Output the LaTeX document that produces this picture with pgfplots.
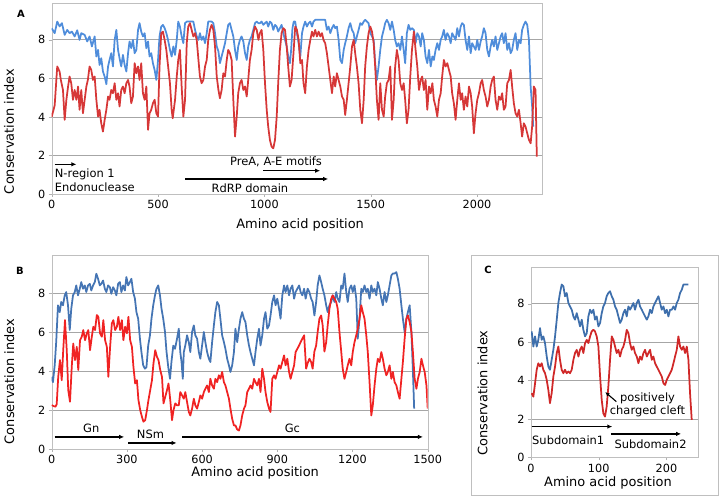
\documentclass[border=0pt]{standalone}
\usepackage{fontspec}
\setmainfont{DejaVu Sans}
\usepackage{pgfplots}
\pgfplotsset{compat=1.18}
\usetikzlibrary{arrows.meta}
\definecolor{ablue}{RGB}{79,141,219}
\definecolor{ared}{RGB}{214,55,55}
\definecolor{bblue}{RGB}{69,117,180}
\definecolor{bred}{RGB}{240,35,35}
\definecolor{cblue}{RGB}{62,111,172}
\definecolor{cred}{RGB}{208,40,40}
\pgfplotsset{panel/.style={scale only axis, axis line style={draw=black!25},
  tick style={draw=black!30}, tick align=outside, major tick length=3bp,
  xtick pos=left, ytick pos=left, ymin=0, ytick={0,2,4,6,8}, ymajorgrids,
  grid style={draw=black!35, line width=0.8bp},
  tick label style={font=\fontsize{11.3}{13}\selectfont},
  label style={font=\fontsize{13}{15}\selectfont},
  /pgf/number format/assume math mode=true, /pgf/number format/1000 sep={},
  every axis plot/.append style={line width=1.75bp, line join=round}}}
\tikzset{annot/.style={font=\fontsize{11.5}{13}\selectfont, inner sep=0pt},
  arr/.style={-{Latex[length=5bp,width=4.5bp]}, line width=1.4bp}}
\begin{document}
\begin{tikzpicture}
\path[use as bounding box] (0bp,0bp) rectangle (720bp,499bp);
% Panel A
\begin{axis}[panel, at={(51.7bp,305bp)}, anchor=south west, width=490bp, height=190.7bp,
  xmin=0, xmax=2304, ymax=9.9, xtick={0,500,1000,1500,2000},
  xlabel={Amino acid position}, ylabel={Conservation index},
  xlabel style={at={(axis description cs:0.507,-0.163)}, anchor=center},
  ylabel style={at={(axis description cs:-0.087,0.328)}, anchor=center}]
\addplot[ablue] coordinates {(0,8.6)(14,8.35)(26,8.95)(37,8.7)(48,8.87)(61,8.26)(73,8.52)(84,8.35)(95,8.43)(108,8.18)(120,8.5)(131,8.0)(139,8.35)(155,8.26)(167,7.92)(178,8.18)(189,7.66)(202,8.18)(210,7.14)(218,7.48)(225,6.7)(233,7.05)(241,6.36)(249,6.1)(257,5.7)(265,6.62)(272,6.96)(280,7.31)(288,6.62)(296,8.0)(304,8.52)(312,7.48)(319,7.05)(327,6.62)(335,7.22)(343,6.7)(351,6.36)(359,7.31)(366,7.92)(374,7.57)(382,8.0)(390,7.31)(398,7.48)(406,8.52)(413,8.87)(421,8.43)(429,8.18)(437,8.35)(445,7.57)(453,7.92)(460,7.14)(468,7.31)(476,6.79)(484,6.44)(492,5.92)(500,6.96)(507,8.18)(515,8.69)(523,8.78)(531,8.61)(539,8.35)(547,8.0)
(556,7.48)(564,7.14)(572,7.66)(580,7.22)(588,8.0)(595,8.95)(603,8.69)(611,8.18)(619,7.83)(627,8.87)(635,8.95)(650,8.95)(666,8.95)(674,8.52)(682,8.18)(690,8.0)(697,8.35)(705,8.0)(713,8.18)(721,7.83)(729,8.35)(736,8.95)(752,8.95)(760,8.87)(768,8.35)(776,7.66)(784,7.4)(791,6.79)(799,7.14)(807,7.48)(815,7.83)(823,8.35)(830,8.78)(838,8.87)(846,8.52)(854,8.18)(862,7.48)(870,6.96)(877,7.66)(885,8.0)(893,8.18)(901,7.92)(909,7.31)(917,6.96)(924,7.66)(932,8.0)(940,8.18)(948,8.52)(956,8.87)(964,8.95)(972,8.87)(979,8.87)(987,8.95)(995,8.78)(1003,8.87)(1011,8.95)(1018,8.69)(1026,8.95)(1034,8.87)(1042,8.52)(1050,8.78)(1058,8.69)(1065,8.43)(1073,8.61)(1081,8.78)(1089,8.35)(1097,8.0)(1105,7.66)(1112,7.14)(1120,6.79)(1126,7.5)(1132,8.6)
(1138,8.95)(1145,8.95)(1153,8.35)(1161,7.83)(1169,7.14)(1177,8.35)(1184,8.69)(1192,8.95)(1200,8.69)(1208,8.87)(1216,8.95)(1224,8.69)(1231,8.95)(1239,9.04)(1286,9.04)(1294,8.52)(1302,8.69)(1310,8.35)(1318,8.61)(1326,8.78)(1333,8.61)(1341,8.69)(1349,8.0)(1357,6.96)(1365,6.79)(1373,7.48)(1380,7.83)(1388,8.18)(1396,8.61)(1404,8.87)(1412,8.52)(1420,8.35)(1427,7.83)(1435,8.18)(1443,8.52)(1451,8.87)(1459,8.78)(1467,8.95)(1474,9.04)(1482,8.95)(1490,8.87)(1498,8.35)(1506,8.18)(1514,8.0)(1521,6.79)(1529,5.92)(1537,6.62)(1545,7.48)(1553,8.18)(1561,8.52)(1568,8.87)(1576,9.04)(1584,8.87)(1592,8.52)(1600,8.95)(1608,8.52)(1615,8.0)(1623,7.66)(1631,7.83)(1639,7.48)(1647,8.18)(1655,7.48)(1662,6.79)(1670,8.35)(1678,8.78)(1686,8.52)(1694,8.61)
(1703,8.52)(1711,7.83)(1719,8.35)(1727,8.18)(1735,7.66)(1742,8.35)(1750,8.0)(1758,7.14)(1766,6.79)(1774,7.48)(1782,6.62)(1790,7.14)(1797,6.96)(1805,7.48)(1813,7.83)(1821,7.48)(1829,8.0)(1836,8.18)(1844,8.52)(1852,8.0)(1860,8.35)(1868,8.18)(1876,7.83)(1883,8.35)(1891,8.18)(1899,8.0)(1907,8.61)(1915,8.18)(1923,8.69)(1930,8.87)(1938,8.78)(1946,8.0)(1954,7.48)(1962,8.18)(1970,7.31)(1977,7.83)(1985,7.66)(1993,7.48)(2001,8.0)(2009,7.48)(2017,7.92)(2024,8.18)(2032,8.61)(2040,8.35)(2048,7.48)(2056,7.14)(2064,7.66)(2071,8.0)(2079,7.66)(2087,8.18)(2095,7.48)(2103,7.83)(2111,8.18)(2118,8.35)(2126,7.83)(2134,8.35)(2142,7.48)(2150,7.83)(2158,7.31)(2165,7.48)(2173,8.0)(2181,8.35)(2189,7.48)(2197,8.0)(2205,7.83)(2212,8.52)(2220,8.78)(2228,8.95)(2236,8.78)(2244,8.0)(2252,5.58)(2259,4.54)(2264,3.5)};
\addplot[ared] coordinates {(0,4.0)(14,4.6)(26,6.62)(37,6.36)(43,5.92)(53,5.4)(61,3.85)(69,4.89)(77,5.58)(84,6.1)(92,5.75)(100,4.89)(108,5.4)(116,4.89)(124,5.58)(131,4.37)(139,5.4)(147,4.19)(155,4.89)(163,5.58)(170,5.92)(178,6.62)(186,6.44)(194,5.92)(202,6.1)(210,4.89)(218,4.02)(225,4.37)(233,3.67)(241,3.24)(249,3.85)(257,4.37)(265,5.06)(272,4.89)(280,5.4)(288,5.23)(296,5.75)(304,4.89)(312,5.23)(319,4.54)(327,5.4)(335,5.58)(343,5.23)(351,5.75)(359,5.92)(366,5.58)(374,4.71)(382,5.06)(390,6.79)(398,6.27)(406,6.62)(413,5.92)(421,6.79)(429,5.23)(437,4.89)(445,5.58)(453,3.33)(460,4.19)(468,4.37)(476,4.71)(484,4.89)(492,4.19)(500,4.02)(507,6.62)(515,8.35)(523,8.43)(531,8.0)(539,7.48)
(556,5.75)(561,4.89)(564,4.37)(569,3.93)(580,4.89)(588,6.1)(595,6.96)(603,7.48)(611,5.58)(619,4.02)(627,4.89)(635,7.83)(642,8.69)(650,8.87)(658,8.52)(666,8.18)(674,8.35)(682,8.0)(690,6.96)(697,6.1)(705,5.75)(713,5.92)(721,6.62)(729,6.96)(736,8.0)(744,8.52)(752,8.78)(760,8.52)(768,7.66)(776,6.1)(784,5.4)(791,4.97)(799,5.4)(807,6.27)(815,6.1)(823,6.96)(830,7.48)(838,7.31)(846,6.96)(854,4.89)(862,2.98)(870,4.02)(877,5.23)(885,5.75)(893,5.92)(901,5.4)(909,5.58)(917,5.06)(924,5.92)(932,6.96)(940,7.48)(948,8.35)(956,8.69)(964,8.52)(972,8.0)(979,8.35)(987,8.52)(995,7.48)(1003,5.75)(1011,4.37)(1018,3.5)(1026,2.81)(1034,2.46)(1042,2.37)(1050,2.81)(1058,4.02)(1065,5.75)(1073,7.48)(1081,8.35)(1089,8.61)(1097,8.52)(1105,7.66)(1112,6.62)(1120,5.58)(1128,5.92)(1138,7.5)
(1145,8.69)(1153,8.52)(1161,8.0)(1169,6.79)(1177,6.96)(1184,5.75)(1192,5.23)(1200,6.62)(1208,7.48)(1216,8.0)(1224,8.43)(1231,8.18)(1239,8.52)(1247,8.18)(1255,8.43)(1263,8.18)(1271,8.35)(1278,8.0)(1286,7.83)(1294,7.31)(1302,6.62)(1310,5.92)(1318,5.23)(1326,6.1)(1333,5.58)(1341,6.27)(1349,5.92)(1357,5.58)(1365,5.06)(1373,4.89)(1380,4.1)(1388,4.89)(1396,5.75)(1404,6.62)(1412,7.66)(1420,8.0)(1427,7.31)(1435,6.62)(1443,5.75)(1451,4.37)(1459,3.67)(1467,4.89)(1474,6.62)(1482,7.66)(1490,8.35)(1498,8.69)(1506,8.43)(1514,7.83)(1521,6.62)(1529,4.89)(1537,3.85)(1545,5.75)(1553,4.37)(1561,4.02)(1568,5.06)(1576,5.75)(1584,5.92)(1592,6.62)(1600,3.85)(1608,4.89)(1615,6.62)(1623,7.48)(1631,6.96)(1639,5.75)(1647,5.4)(1655,5.75)(1662,4.89)(1670,3.67)(1678,4.37)(1686,6.1)(1694,7.48)
(1703,8.43)(1711,7.48)(1719,6.62)(1727,5.4)(1735,5.92)(1742,6.1)(1750,5.4)(1758,5.92)(1766,4.37)(1774,5.58)(1782,5.23)(1790,5.75)(1797,4.89)(1805,4.54)(1813,4.02)(1821,4.89)(1829,5.23)(1836,6.1)(1844,6.96)(1852,6.62)(1860,6.79)(1868,6.44)(1876,6.1)(1883,5.23)(1891,4.71)(1899,3.85)(1907,4.89)(1915,5.75)(1923,4.89)(1930,5.23)(1938,4.37)(1946,5.06)(1954,4.54)(1962,5.58)(1970,5.23)(1977,4.54)(1985,3.15)(1993,4.19)(2001,4.89)(2009,5.23)(2017,5.75)(2024,5.92)(2032,5.4)(2040,5.06)(2048,4.54)(2056,4.89)(2064,5.58)(2071,5.92)(2079,6.1)(2087,4.89)(2095,4.37)(2103,5.06)(2111,4.89)(2118,5.23)(2126,4.37)(2134,4.54)(2142,5.75)(2150,5.92)(2158,6.44)(2165,5.58)(2173,4.71)(2181,4.19)(2189,4.02)(2197,4.37)(2205,3.67)(2212,2.98)(2220,3.67)(2228,3.5)(2236,3.15)(2244,2.81)(2252,2.63)(2259,3.5)(2267,5.58)(2275,5.4)(2281,1.94)};
\draw[arr] (axis cs:14,1.54) -- (axis cs:116,1.54);
\node[annot, anchor=west] at (axis cs:14,1.04) {N-region 1};
\node[annot, anchor=west] at (axis cs:14,0.33) {Endonuclease};
\node[annot] at (axis cs:1055,1.65) {PreA, A-E motifs};
\draw[arr] (axis cs:995,1.21) -- (axis cs:1262,1.21);
\draw[arr] (axis cs:627,0.78) -- (axis cs:1300,0.78);
\node[annot] at (axis cs:932,0.28) {RdRP domain};
\end{axis}
% Panel B
\begin{axis}[panel, at={(51.7bp,50bp)}, anchor=south west, width=376bp, height=194bp,
  xmin=0, xmax=1500, ymax=9.95, xtick={0,300,600,900,1200,1500},
  xlabel={Amino acid position}, ylabel={Conservation index},
  xlabel style={at={(axis description cs:0.541,-0.122)}, anchor=center},
  ylabel style={at={(axis description cs:-0.113,0.348)}, anchor=center}]
\addplot[bblue] coordinates {(0,3.7)(5,3.43)(12,4.3)(18,5.5)(25,7.37)(32,7.02)(38,7.54)(45,7.37)(52,7.88)(58,8.05)(65,7.37)(72,6.1)(78,7.19)(85,7.88)(92,8.05)(98,8.39)(105,7.88)(112,8.22)(118,8.56)(125,8.22)(132,8.39)(138,8.05)(145,8.39)(152,8.47)(158,8.13)(165,8.39)(172,8.56)(178,8.99)(185,8.73)(192,8.39)(198,8.47)(205,8.64)(212,8.22)(218,8.05)(225,8.39)(232,8.3)(238,7.96)(245,8.3)(252,8.13)(258,7.88)(265,8.47)(272,8.56)(278,8.05)(285,8.39)(292,8.13)(298,8.82)(305,8.39)(312,8.56)(318,8.73)(325,8.05)(332,7.71)(338,7.02)(345,6.68)(352,5.66)(358,4.97)(365,4.29)(372,4.12)(378,4.2)(385,5.31)(392,5.83)(398,6.68)(405,7.37)(412,7.88)(418,8.22)(425,8.39)(432,7.88)(438,7.2)(445,6.68)(452,6.0)(458,5.0)(465,4.2)(472,3.6)(478,4.5)(485,5.3)(492,5.14)(500,5.66)(507,6.17)(513,4.97)(518,4.46)(523,3.6)
(527,4.97)(533,5.31)(540,5.83)(547,5.48)(553,4.97)(560,6.0)(567,6.34)(573,5.83)(580,5.66)(587,4.97)(593,4.63)(600,5.31)(607,6.0)(613,5.48)(620,4.97)(627,4.63)(633,4.46)(640,5.48)(647,6.34)(653,7.02)(660,7.54)(667,7.37)(673,6.68)(680,5.83)(687,5.48)(693,5.14)(700,4.63)(707,4.29)(713,3.95)(720,4.29)(727,4.97)(733,6.17)(740,5.48)(747,6.17)(753,6.68)(760,7.02)(767,6.68)(773,6.51)(780,5.83)(787,5.31)(793,4.97)(800,4.63)(807,4.29)(813,4.97)(820,5.66)(827,6.17)(833,5.31)(840,5.83)(847,6.68)(853,7.02)(860,6.17)(867,6.34)(873,6.85)(880,7.54)(887,7.88)(893,7.37)(900,7.71)(907,7.19)(913,6.68)(920,7.88)(927,8.39)(933,8.05)(940,8.39)(947,7.88)(953,8.22)(960,8.39)(967,7.71)(973,8.05)(980,8.22)(987,8.39)(993,8.05)(1000,7.88)(1007,8.22)(1013,7.71)
(1021,8.22)(1028,8.05)(1035,7.71)(1041,7.54)(1048,6.85)(1055,7.54)(1061,8.39)(1068,8.9)(1075,8.56)(1081,8.22)(1088,7.88)(1095,7.37)(1101,7.02)(1108,7.37)(1115,7.54)(1121,7.88)(1128,7.54)(1135,8.05)(1141,7.71)(1148,7.54)(1155,8.39)(1161,8.22)(1168,9.0)(1175,8.05)(1181,7.54)(1188,8.22)(1195,8.39)(1201,8.05)(1208,8.39)(1215,7.71)(1221,5.66)(1228,6.68)(1235,8.22)(1241,8.05)(1248,8.39)(1255,8.05)(1261,8.22)(1268,7.71)(1275,8.39)(1281,8.05)(1288,8.22)(1295,7.88)(1301,8.56)(1308,8.22)(1315,7.71)(1321,7.37)(1328,8.05)(1335,7.54)(1341,7.88)(1348,8.39)(1355,8.9)(1361,9.0)(1368,9.0)(1375,9.07)(1381,8.73)(1388,8.22)(1395,7.37)(1401,6.68)(1408,6.0)(1415,6.68)(1421,7.02)(1428,7.37)(1435,6.0)(1441,4.0)(1446,2.07)};
\addplot[bred] coordinates {(0,2.25)(8,2.2)(15,2.17)(20,2.3)(26,3.7)(33,4.56)(40,3.53)(46,5.07)(53,6.61)(60,5.07)(66,3.02)(73,2.42)(80,4.22)(86,5.41)(93,4.56)(100,5.24)(106,4.05)(113,5.58)(120,5.76)(126,6.1)(133,5.58)(140,5.93)(146,6.1)(153,5.07)(160,5.76)(166,6.27)(173,6.1)(180,6.87)(186,6.78)(193,5.93)(200,5.76)(206,6.61)(213,5.58)(220,5.24)(226,3.7)(233,5.24)(240,6.44)(246,6.61)(253,6.1)(260,6.27)(266,6.78)(273,6.1)(280,6.61)(286,5.58)(293,6.27)(300,5.93)(306,6.78)(313,5.58)(320,5.24)(326,4.22)(333,3.36)(340,3.53)(346,2.51)(353,2.0)(360,1.65)(366,1.4)(373,1.48)(380,2.0)(386,2.51)(393,3.02)(400,3.53)(406,4.39)(413,5.07)(420,4.73)(426,4.56)(433,4.05)(440,3.7)(446,2.34)(453,2.68)(460,3.02)(466,3.36)(473,2.51)(480,1.48)(486,2.0)(493,2.34)
(500,2.24)(507,2.24)(513,2.92)(520,2.75)(527,2.58)(533,2.92)(540,2.41)(547,1.9)(553,1.72)(560,2.07)(567,2.58)(573,2.24)(580,2.07)(587,2.41)(593,2.75)(600,2.58)(607,2.92)(613,3.09)(620,3.26)(627,2.92)(633,3.6)(640,3.26)(647,3.09)(653,3.6)(660,3.43)(667,3.78)(673,3.6)(680,3.95)(687,3.43)(693,3.26)(700,2.92)(707,2.58)(713,2.07)(720,1.55)(727,1.21)(733,1.21)(740,1.0)(747,0.95)(753,1.21)(760,1.72)(767,2.07)(773,2.24)(780,2.92)(787,3.09)(793,3.26)(800,3.09)(807,3.6)(813,3.43)(820,3.26)(827,3.6)(833,2.92)(840,4.12)(847,3.6)(853,2.92)(860,2.41)(867,2.07)(873,1.9)(880,3.6)(887,3.78)(893,3.6)(900,3.95)(907,4.29)(913,4.12)(920,4.46)(927,4.8)(933,4.29)(940,4.63)(947,3.95)(953,3.6)(960,3.95)(967,4.29)(973,4.97)(980,5.14)(987,5.31)(993,5.48)(1000,5.66)(1007,5.83)
(1015,4.12)(1021,4.4)(1028,4.63)(1035,4.46)(1041,4.12)(1048,5.0)(1055,5.31)(1061,6.0)(1068,6.68)(1075,6.85)(1081,6.34)(1088,5.0)(1095,5.48)(1101,6.34)(1108,7.19)(1115,7.71)(1121,7.88)(1128,7.71)(1135,7.54)(1141,7.19)(1148,6.0)(1155,5.0)(1161,4.12)(1168,3.6)(1175,3.95)(1181,4.29)(1188,4.63)(1195,4.29)(1201,4.97)(1208,5.48)(1215,5.83)(1221,6.17)(1228,6.68)(1235,7.37)(1241,7.02)(1248,6.68)(1255,5.83)(1261,4.97)(1268,3.43)(1275,1.72)(1281,2.24)(1288,3.26)(1295,4.12)(1301,4.63)(1308,4.46)(1315,4.97)(1321,4.63)(1328,4.12)(1335,3.78)(1341,3.95)(1348,4.29)(1355,3.6)(1361,3.95)(1368,3.43)(1375,3.26)(1381,2.92)(1388,2.58)(1395,3.6)(1401,4.46)(1408,5.66)(1415,6.68)(1421,6.85)(1428,6.51)(1435,6.0)(1441,4.97)(1448,3.6)(1455,3.09)(1461,3.6)(1468,3.95)(1475,4.63)(1481,4.29)(1488,3.95)(1495,3.26)(1500,2.07)};
\draw[arr] (axis cs:12,0.62) -- (axis cs:289,0.62);
\node[annot] at (axis cs:158,1.08) {Gn};
\draw[arr] (axis cs:305,0.31) -- (axis cs:498,0.31);
\node[annot] at (axis cs:394,0.77) {NSm};
\draw[arr] (axis cs:520,0.62) -- (axis cs:1481,0.62);
\node[annot] at (axis cs:960,1.06) {Gc};
\end{axis}
% Panel C
\draw[black!25, line width=0.8bp] (471bp,4bp) rectangle (718bp,244bp);
\begin{axis}[panel, at={(531bp,41.7bp)}, anchor=south west, width=167.3bp, height=190.6bp,
  xmin=0, xmax=247, ymax=9.93, xtick={0,100,200},
  xlabel={Amino acid position}, ylabel={Conservation index},
  xlabel style={at={(axis description cs:0.46,-0.133)}, anchor=center},
  ylabel style={at={(axis description cs:-0.29,0.337)}, anchor=center}]
\addplot[cblue] coordinates {(1,6.56)(3.5,5.77)(6,6.3)(8.4,5.77)(10.8,6.12)(13.3,6.73)(15.8,6.12)(18.2,6.3)(20.7,5.95)(23.2,5.25)(25.6,4.73)(28,4.56)(30.5,5.08)(33,5.6)(35.5,6.3)(38,7.17)(40.4,8.04)(42.8,8.56)(45.3,9.0)(47.8,8.91)(50.2,8.39)(52.7,8.56)(55.2,8.04)(57.6,7.86)(60.1,7.69)(62.6,7.34)(65,7.17)(67.5,7.51)(70,7.17)(72.4,6.82)(74.9,7.17)(77.3,6.64)(79.8,6.3)(82.3,6.47)(84.7,7.34)(87.2,7.69)(89.6,7.51)(92.1,7.69)(94.5,7.17)(97,7.34)(99.5,6.82)(102,7.0)(104.4,7.51)(106.8,7.86)(109.3,8.04)(111.7,8.39)(114.2,8.56)(116.7,8.65)(119.2,8.39)(121.6,8.21)(124.1,7.86)(126.5,7.69)(129,7.34)(131.5,7.0)(133.9,7.17)(136.4,7.51)(138.9,7.69)(141.3,7.34)(143.8,7.86)(146.2,7.69)(148.7,7.86)(151.2,8.04)(153.6,7.69)(156.1,8.04)(158.6,8.21)(161,7.86)(163.5,7.69)(166,7.51)(168.4,7.34)(171,7.17)(173.3,7.34)(175.8,7.69)(178.3,7.51)(180.7,7.86)(183.2,8.04)(185.6,8.21)(188.1,8.39)(190.6,8.04)(193,7.69)(195.5,7.86)(198,7.51)(200.4,7.69)(202.9,7.34)(205.3,7.69)(207.8,7.69)(210.3,7.86)(212.7,7.69)(215.2,8.04)(217.6,8.21)(220.1,8.56)(222.6,8.73)(225,9.0)(232.4,9.0)};
\addplot[cred] coordinates {(1,3.34)(3.5,3.16)(6,3.86)(8.4,4.56)(10.8,4.9)(13.3,4.73)(15.8,4.9)(18.2,4.56)(20.7,4.38)(23.2,4.03)(25.6,3.51)(28,2.82)(30.5,3.34)(33,4.21)(35.5,4.73)(38,5.43)(40.4,5.77)(42.8,5.08)(45.3,4.56)(47.8,4.38)(50.2,4.56)(52.7,4.38)(55.2,4.47)(57.6,4.38)(60.1,4.56)(62.6,5.08)(65,5.43)(67.5,5.6)(70,5.25)(72.4,5.6)(74.9,5.77)(77.3,5.43)(79.8,5.95)(82.3,6.12)(84.7,5.95)(87.2,6.3)(89.6,6.56)(92.1,6.64)(94.5,6.56)(97,6.3)(99.5,5.77)(102,4.21)(104.4,2.99)(106.8,2.29)(109.3,2.12)(111.7,2.64)(114.2,3.69)(116.7,5.08)(119.2,6.3)(121.6,6.12)(124.1,5.77)(126.5,5.43)(129,5.6)(131.5,5.25)(133.9,5.6)(136.4,5.77)(138.9,6.12)(141.3,6.64)(143.8,6.47)(146.2,5.95)(148.7,5.6)(151.2,5.77)(153.6,5.43)(156.1,5.25)(158.6,4.9)(161,5.25)(163.5,5.08)(166,5.43)(168.4,5.6)(171,5.25)(173.3,5.43)(175.8,5.6)(178.3,5.08)(180.7,5.25)(183.2,4.9)(185.6,4.73)(188.1,4.56)(190.6,4.38)(193,4.21)(195.5,3.86)(198,3.77)(200.4,4.03)(202.9,4.21)(205.3,4.38)(207.8,4.56)(210.3,4.9)(212.7,5.25)(215.2,5.6)(217.6,6.3)(220.1,5.77)(222.6,5.6)(225,5.77)(227.5,5.43)(230,5.77)(232.4,5.08)(234.8,3.34)(237.3,1.95)};
\draw[-{Latex[length=4.5bp,width=4bp]}, line width=1.1bp] (axis cs:126,2.9) -- (axis cs:109.5,3.4);
\node[annot, align=center] at (axis cs:172,2.73) {positively\\charged cleft};
\draw[arr] (axis cs:1,1.6) -- (axis cs:120,1.6);
\node[annot, anchor=west] at (axis cs:1.5,0.9) {Subdomain1};
\draw[arr] (axis cs:118,1.22) -- (axis cs:221.6,1.22);
\node[annot, anchor=west] at (axis cs:123,0.69) {Subdomain2};
\end{axis}
\node[font=\bfseries\fontsize{10}{12}\selectfont] at (21bp,485.5bp) {A};
\node[font=\bfseries\fontsize{10}{12}\selectfont] at (20bp,228bp) {B};
\node[font=\bfseries\fontsize{10}{12}\selectfont] at (488bp,229bp) {C};
\end{tikzpicture}
\end{document}
